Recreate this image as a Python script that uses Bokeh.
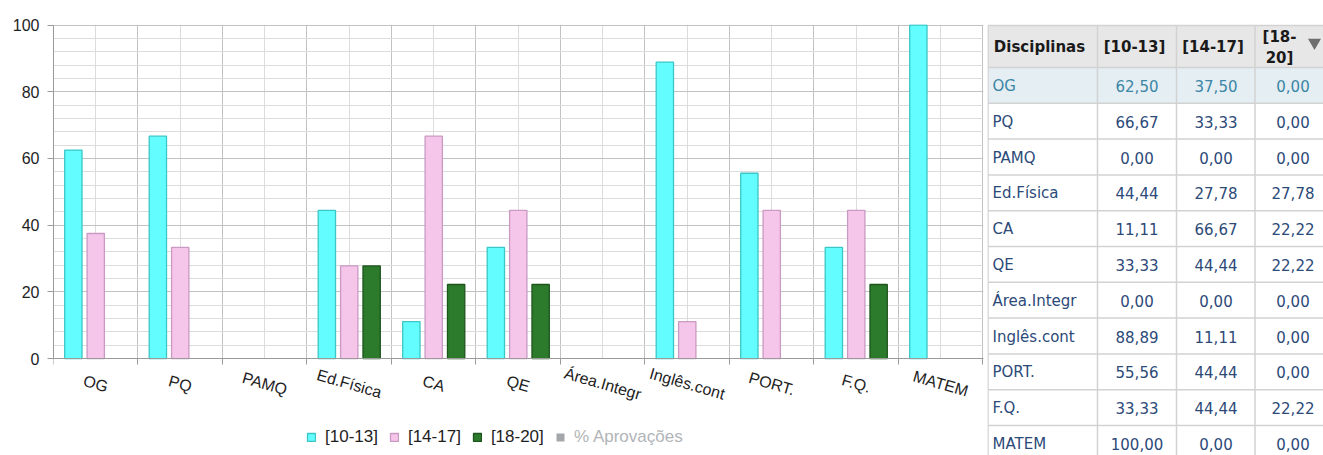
from bokeh.plotting import figure
from bokeh.models import (Range1d, FixedTicker, SingleIntervalTicker,
                          Legend, LegendItem)
from bokeh.layouts import row
from bokeh.embed import file_html
from bokeh.resources import INLINE
from bokeh.core.properties import value

# ---------------- data ----------------
categories = ["OG", "PQ", "PAMQ", "Ed.Física", "CA", "QE", "Área.Integr",
              "Inglês.cont", "PORT.", "F.Q.", "MATEM"]
v_10_13 = [62.50, 66.67, 0.00, 44.44, 11.11, 33.33, 0.00, 88.89, 55.56, 33.33, 100.00]
v_14_17 = [37.50, 33.33, 0.00, 27.78, 66.67, 44.44, 0.00, 11.11, 44.44, 44.44, 0.00]
v_18_20 = [0.00, 0.00, 0.00, 27.78, 22.22, 22.22, 0.00, 0.00, 0.00, 22.22, 0.00]
series_labels = ["[10-13]", "[14-17]", "[18-20]"]
hidden_label = "% Aprovações"
table_header = ["Disciplinas", "[10-13]", "[14-17]", "[18-20]"]

# ---------------- styles ----------------
W_CHART, W_TABLE, H = 987, 336, 455
CHART_FONT = "Liberation Sans"
TABLE_FONT = "DejaVu Sans"
fills = ["#63fdff", "#f5c5ea", "#2c7a2c"]
lines = ["#3cc6c6", "#c99ac2", "#1d551d"]
offsets = [-0.265, 0.0, 0.265]
bar_w = 0.205

TOP, BOTTOM_BORDER = 24, 8
PX_PER_UNIT = 3.34            # 100 units -> 334 px
y_low = -(H - BOTTOM_BORDER - TOP - 100 * PX_PER_UNIT) / PX_PER_UNIT

n = len(categories)
p = figure(width=W_CHART, height=H, x_range=Range1d(0, n + 0.006),
           y_range=Range1d(y_low, 100.15),
           output_backend="svg", toolbar_location=None, frame_align=False,
           min_border_left=53, min_border_right=4, min_border_top=TOP,
           min_border_bottom=BOTTOM_BORDER)
p.background_fill_color = "white"
p.border_fill_color = "white"
p.outline_line_color = None

# y axis
p.yaxis.ticker = SingleIntervalTicker(interval=20, num_minor_ticks=5)
p.yaxis.bounds = (0, 100)
p.yaxis.major_tick_out = 6
p.yaxis.major_tick_in = 0
p.yaxis.minor_tick_out = 0
p.yaxis.minor_tick_in = 0
p.yaxis.major_label_standoff = 8
p.yaxis.major_label_text_font = CHART_FONT
p.yaxis.major_label_text_font_size = "16px"
p.yaxis.major_label_text_color = "#1e1e1e"
p.yaxis.axis_line_color = "#9a9a9a"
p.yaxis.major_tick_line_color = "#9a9a9a"

# x axis: ticks at category boundaries, fixed at y = 0
xticker = FixedTicker(ticks=list(range(n + 1)), minor_ticks=[i + 0.5 for i in range(n)])
p.xaxis.ticker = xticker
p.xaxis.fixed_location = 0
p.xaxis.major_tick_out = 6
p.xaxis.major_tick_in = 0
p.xaxis.minor_tick_out = 0
p.xaxis.minor_tick_in = 0
p.xaxis.major_label_overrides = {i: "" for i in range(n + 1)}
p.xaxis.major_label_text_font_size = "0px"
p.xaxis.major_label_standoff = 0
p.xaxis.axis_line_color = "#9a9a9a"
p.xaxis.major_tick_line_color = "#9a9a9a"

# grids
p.xgrid.grid_line_color = "#c2c2c2"
p.xgrid.minor_grid_line_color = "#dcdcdc"
p.ygrid.grid_line_color = "#c2c2c2"
p.ygrid.minor_grid_line_color = "#dcdcdc"
p.ygrid.bounds = (0, 100)

# white mask below the zero line (hides vertical grid lines there)
p.quad(left=[0], right=[n + 0.006], bottom=[y_low], top=[0],
       fill_color="white", line_color=None)

renderers = []
for k, vals in enumerate([v_10_13, v_14_17, v_18_20]):
    xs = [i + 0.5 + offsets[k] for i, v in enumerate(vals) if v > 0]
    tops = [v for v in vals if v > 0]
    r = p.vbar(x=xs, top=tops, bottom=0, width=bar_w,
               fill_color=fills[k], line_color=lines[k], line_width=1.3)
    renderers.append(r)

# series that is switched off in the original: zero-height bars, only its legend entry shows
hidden = p.vbar(x=[i + 0.5 for i in range(n)], top=0, bottom=0, width=bar_w,
                fill_color="#a3a6aa", line_color=None)

# category labels (rotated, centred under each category)
p.text(x=[i + 0.5 for i in range(n)], y=-7.5, text=categories, angle=-0.28,
       text_align="center", text_baseline="middle",
       text_font=value(CHART_FONT), text_font_size="16px", text_color="#1e1e1e")

legend_style = dict(orientation="horizontal", glyph_width=10, glyph_height=10,
                    label_standoff=9, spacing=11, padding=0, margin=0,
                    border_line_color=None, background_fill_alpha=0,
                    label_text_font=CHART_FONT, label_text_font_size="17px")
items = [LegendItem(label=lab, renderers=[r]) for lab, r in zip(series_labels, renderers)]
legend = Legend(items=items, location=(253, 0), label_text_color="#1e1e1e", **legend_style)
p.add_layout(legend)
legend_off = Legend(items=[LegendItem(label=hidden_label, renderers=[hidden])],
                    location=(502, 0), label_text_color="#b1b4b8", **legend_style)
p.add_layout(legend_off)

# ---------------- table ----------------
t = figure(width=W_TABLE, height=H, x_range=Range1d(0, W_TABLE), y_range=Range1d(H, 0),
           output_backend="svg", toolbar_location=None, min_border=0, frame_align=False,
           x_axis_type=None, y_axis_type=None)
t.grid.visible = False
t.outline_line_color = None
t.background_fill_color = "white"
t.border_fill_color = "white"

col_edges = [0.5, 110, 189, 267.5, 350]
head_top, head_bot, row_h = 25, 67, 35.8
row_tops = [head_bot + row_h * i for i in range(n + 1)]

t.quad(left=[col_edges[0]], right=[W_TABLE], top=[head_top], bottom=[head_bot],
       fill_color="#e7e7e7", line_color=None)
t.quad(left=[col_edges[0]], right=[W_TABLE], top=[row_tops[0]], bottom=[row_tops[1]],
       fill_color="#e5eef2", line_color=None)

hy = [head_top, head_bot] + row_tops[1:]
t.segment(x0=[col_edges[0]] * len(hy), x1=[W_TABLE] * len(hy), y0=hy, y1=hy,
          line_color="#d2d2d2", line_width=1.5)
t.segment(x0=col_edges[:4], x1=col_edges[:4], y0=[head_top] * 4, y1=[H] * 4,
          line_color="#d2d2d2", line_width=1.5)

head_mid = (head_top + head_bot) / 2
t.text(x=[52, 147, 225.5], y=[head_mid] * 3,
       text=table_header[:3], text_align="center", text_baseline="middle",
       text_font=value(TABLE_FONT), text_font_size="15px", text_font_style="bold",
       text_color="#1a1a1a")
h3 = table_header[3]
cut = h3.index("-") + 1
t.text(x=[292, 292], y=[head_mid - 9.5, head_mid + 11], text=[h3[:cut], h3[cut:]],
       text_align="center", text_baseline="middle",
       text_font=value(TABLE_FONT), text_font_size="15px", text_font_style="bold",
       text_color="#1a1a1a")
t.scatter(x=[327], y=[head_mid - 4], marker="inverted_triangle", size=13,
          fill_color="#6e6e6e", line_color=None)

row_mid = [row_tops[i] + row_h / 2 + 0.5 for i in range(n)]
colors = ["#3b86a6"] + ["#2c4a78"] * (n - 1)
t.text(x=[5] * n, y=row_mid, text=categories, text_align="left", text_baseline="middle",
       text_font=value(TABLE_FONT), text_font_size="15px", text_color=colors)

def fmt(v):
    return f"{v:.2f}".replace(".", ",")

num_centers = [149.5, 228.5, 305.5]
for j, vals in enumerate([v_10_13, v_14_17, v_18_20]):
    t.text(x=[num_centers[j]] * n, y=row_mid, text=[fmt(v) for v in vals],
           text_align="center", text_baseline="middle",
           text_font=value(TABLE_FONT), text_font_size="15px", text_color=colors)

layout = row(p, t)
open("out.html", "w").write(file_html(layout, INLINE))
